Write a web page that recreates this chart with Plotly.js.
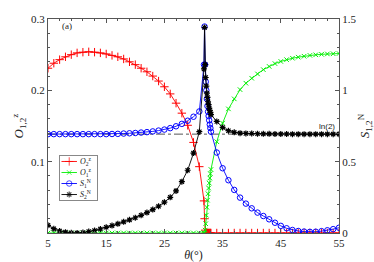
<!DOCTYPE html>
<html><head><meta charset="utf-8">
<script src="https://cdn.plot.ly/plotly-3.0.1.min.js"></script>
<style>html,body{margin:0;padding:0;background:#fff}#c{width:374px;height:262px}</style>
</head><body><div id="c"></div>
<script>
const theta = [5,6,7,8,9,10,11,12,13,14,15,16,17,18,19,20,21,22,23,24,25,26,27,28,29,30,31,
  31.8,31.9,32.0,32.1,32.2,32.3,32.4,32.5,32.6,32.7,32.8,32.9,33.0,
  34,35,36,37,38,39,40,41,42,43,44,45,46,47,48,49,50,51,52,53,54,55];
const O2 = [0.231,0.238,0.243,0.247,0.250,0.2525,0.2535,0.254,0.2535,0.2525,0.251,0.249,0.247,0.244,0.240,0.236,0.231,0.226,0.220,0.213,0.205,0.195,0.182,0.168,0.151,0.127,0.093,
  0.045,0.02,0.004,0,0,0,0,0,0,0,0,0,0,
  0,0,0,0,0,0,0,0,0,0,0,0,0,0,0,0,0,0,0,0,0,0];
const O1 = [0,0,0,0,0,0,0,0,0,0,0,0,0,0,0,0,0,0,0,0,0,0,0,0,0,0,0,
  0,0,0.004,0.013,0.025,0.036,0.046,0.055,0.063,0.07,0.077,0.083,0.089,
  0.128,0.154,0.174,0.188,0.201,0.210,0.217,0.223,0.229,0.2335,0.2375,0.2405,0.243,0.245,0.2465,0.2478,0.249,0.2498,0.2505,0.251,0.2513,0.2516];
const S1 = [0.693,0.693,0.693,0.693,0.693,0.693,0.693,0.693,0.693,0.693,0.693,0.694,0.695,0.697,0.699,0.701,0.704,0.707,0.712,0.718,0.725,0.735,0.748,0.765,0.787,0.815,0.852,
  1.18,1.447,1.18,1.06,1.0,0.94,0.89,0.85,0.82,0.79,0.76,0.735,0.71,
  0.564,0.454,0.37,0.302,0.248,0.206,0.173,0.143,0.119,0.096,0.072,0.05,0.033,0.021,0.014,0.01,0.008,0.009,0.013,0.019,0.027,0.037];
const S2 = [0.054,0.03,0.014,0.006,0.001,0,0.003,0.01,0.018,0.028,0.04,0.052,0.064,0.078,0.092,0.107,0.124,0.143,0.164,0.188,0.216,0.25,0.295,0.36,0.44,0.56,0.71,
  1.15,1.44,1.18,1.09,1.03,0.98,0.95,0.92,0.9,0.875,0.86,0.845,0.83,
  0.782,0.74,0.717,0.706,0.70,0.698,0.697,0.696,0.695,0.695,0.694,0.694,0.694,0.693,0.693,0.693,0.693,0.693,0.693,0.693,0.693,0.693];
const lnLineX = [5,55];
const LN2 = 0.693;
const xTicks = [5,15,25,35,45,55];
const yLeftTicks = [0.1,0.2,0.3];
const yRightTicks = [0,0.5,1,1.5];
const names = ['<i>O</i><sub>2</sub><sup>z</sup>','<i>O</i><sub>1</sub><sup>z</sup>','<i>S</i><sub>1</sub><sup>N</sup>','<i>S</i><sub>2</sub><sup>N</sup>'];

const serif = 'Liberation Serif, Times New Roman, serif';
const axCol = '#555';
const styles = [
  {c:'#ff0000', sym:'cross-thin-open', s:6, w:1},
  {c:'#00ee00', sym:'x-thin-open', s:4.5, w:1},
  {c:'#0000ff', sym:'circle-open', s:5.5, w:1},
  {c:'#000000', sym:'asterisk-open', s:5, w:1.2}
];
const series = [O2, O1, S1, S2];
const onRight = [false, false, true, true];

const traces = [
  {x: lnLineX, y:[LN2,LN2], yaxis:'y2', mode:'lines', line:{color:'#555', dash:'dashdot', width:1}, showlegend:false, hoverinfo:'skip'}
];
series.forEach((ys, i) => {
  const st = styles[i];
  traces.push({x: theta, y: ys, name: names[i], yaxis: onRight[i] ? 'y2' : 'y', mode:'lines+markers', showlegend:false,
    line:{color:st.c, width:0.9}, marker:{symbol:st.sym, size:st.s, color:st.c, line:{color:st.c, width:st.w}}});
});
const annotations = [
  {x:54.7, y:LN2, xref:'x', yref:'y2', text:'ln(2)', showarrow:false, xanchor:'right', yanchor:'bottom', yshift:1,
   font:{family:'Liberation Sans, Arial, sans-serif', size:8, color:'#222'}},
  {x:0.04, y:0.965, xref:'paper', yref:'paper', text:'(a)', showarrow:false, xanchor:'left', yanchor:'middle',
   font:{family:serif, size:9, color:'#222'}}
];
series.forEach((ys, i) => {
  const st = styles[i];
  traces.push({x:[0.04,0.25,0.46], y:[i+0.5,i+0.5,i+0.5], xaxis:'x2', yaxis:'y3', mode:'lines+markers', showlegend:false,
    line:{color:st.c, width:0.9}, marker:{symbol:st.sym, size:[0,st.s,0], color:st.c, line:{color:st.c, width:st.w}}});
  annotations.push({x:0.5, y:i+0.5, xref:'x2', yref:'y3', text:names[i], showarrow:false, xanchor:'left', yanchor:'middle',
    font:{family:serif, size:8, color:'#222'}});
});

const layout = {
  width:374, height:262,
  margin:{l:48, r:35, t:19, b:29},
  paper_bgcolor:'#fff', plot_bgcolor:'#fff',
  font:{family:serif, size:11, color:'#222'},
  showlegend:false,
  xaxis:{range:[5,55], tickvals:xTicks, ticks:'inside', ticklen:4, tickcolor:axCol, showline:true, linecolor:axCol, linewidth:1,
         mirror:'ticks', showgrid:false, zeroline:false,
         minor:{tickmode:'linear', tick0:5, dtick:2, ticks:'inside', ticklen:2, tickcolor:axCol},
         title:{text:'<i>θ</i>(°)', font:{family:serif, size:12}, standoff:3}},
  yaxis:{range:[0,0.3], tickvals:yLeftTicks, ticks:'inside', ticklen:4, tickcolor:axCol, showline:true, linecolor:axCol, linewidth:1,
         showgrid:false, zeroline:false,
         minor:{tickmode:'linear', tick0:0, dtick:0.02, ticks:'inside', ticklen:2, tickcolor:axCol},
         title:{text:'<i>O</i><sub>1,2</sub><sup>z</sup>', font:{family:serif, size:13}, standoff:4}},
  yaxis2:{range:[0,1.5], overlaying:'y', side:'right', tickvals:yRightTicks, ticks:'inside', ticklen:4, tickcolor:axCol,
          showline:true, linecolor:axCol, linewidth:1, showgrid:false, zeroline:false,
          minor:{tickmode:'linear', tick0:0, dtick:0.1, ticks:'inside', ticklen:2, tickcolor:axCol},
          title:{text:'<i>S</i><sub>1,2</sub><sup>N</sup>', font:{family:serif, size:13}, standoff:4}},
  xaxis2:{domain:[0.0412,0.168], anchor:'y3', range:[0,1], showline:true, mirror:true, linecolor:'#888', linewidth:1,
          showticklabels:false, ticks:'', showgrid:false, zeroline:false, fixedrange:true},
  yaxis3:{domain:[0.154,0.360], anchor:'x2', range:[4,0], showline:true, mirror:true, linecolor:'#888', linewidth:1,
          showticklabels:false, ticks:'', showgrid:false, zeroline:false, fixedrange:true},
  annotations: annotations
};
Plotly.newPlot('c', traces, layout, {staticPlot:true, displayModeBar:false});
</script></body></html>
